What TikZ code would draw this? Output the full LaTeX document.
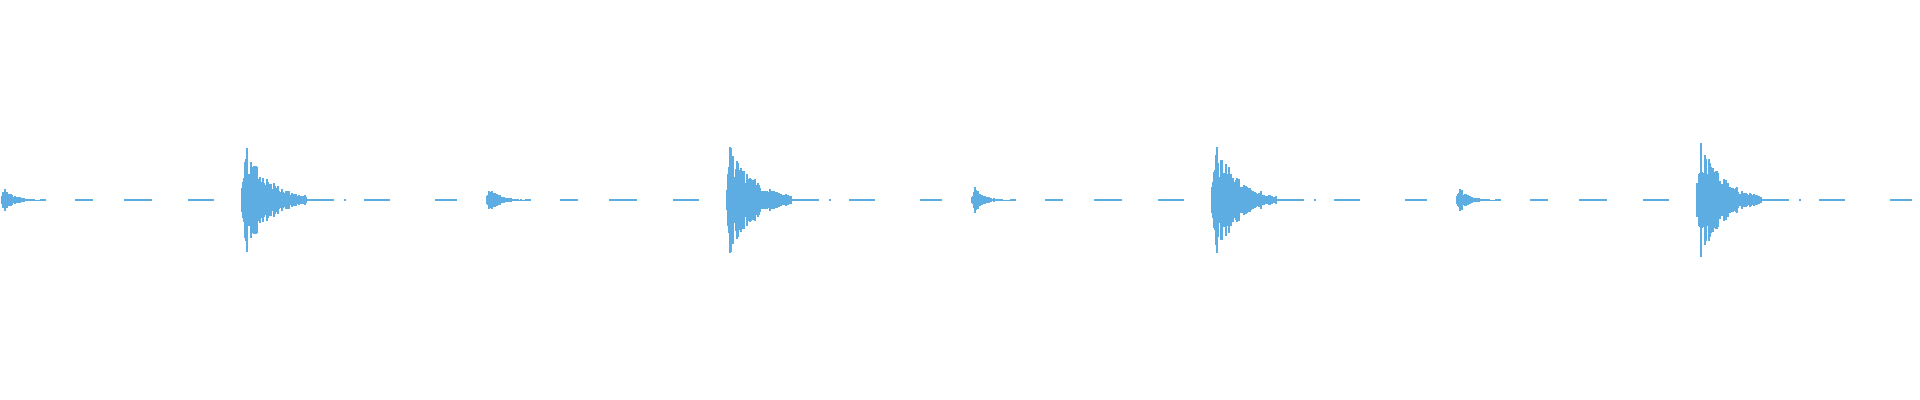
\documentclass[tikz,border=0pt]{standalone}
\usepackage{tikz}

\definecolor{wave}{HTML}{5DADE2}

\begin{document}
\begin{tikzpicture}[x=0.01cm,y=0.01cm]
    \tikzset{
        wline/.style={draw=wave, line width=0.011cm},
        flat/.style={draw=wave, line width=0.012cm}
    }
    \pgfmathsetseed{11}
    \useasboundingbox (0,-200) rectangle (1920,200);

    % decaying bursts
    \newcommand{\burst}[4]{%
        \foreach \i in {0,...,#3} {
            \pgfmathsetmacro{\amp}{#2*min(1,(\i+1)/4)*exp(-\i/#4)*(0.45+0.55*rnd)}
            \draw[wline] (#1+\i,-\amp) -- (#1+\i,\amp);
        }
    }
    \foreach \c in {0,485,970,1455} {
        \burst{\c+2}{18}{42}{10}
        \burst{\c+242}{68}{64}{24}
        % quiet stretches
        \draw[flat] (\c+40,0) -- (\c+46,0);
        \draw[flat] (\c+75,0) -- (\c+93,0);
        \draw[flat] (\c+124,0) -- (\c+152,0);
        \draw[flat] (\c+188,0) -- (\c+214,0);
        \draw[flat] (\c+300,0) -- (\c+334,0);
        \draw[flat] (\c+344,0) -- (\c+346,0);
        \draw[flat] (\c+364,0) -- (\c+390,0);
        \draw[flat] (\c+435,0) -- (\c+457,0);
    }
\end{tikzpicture}
\end{document}
